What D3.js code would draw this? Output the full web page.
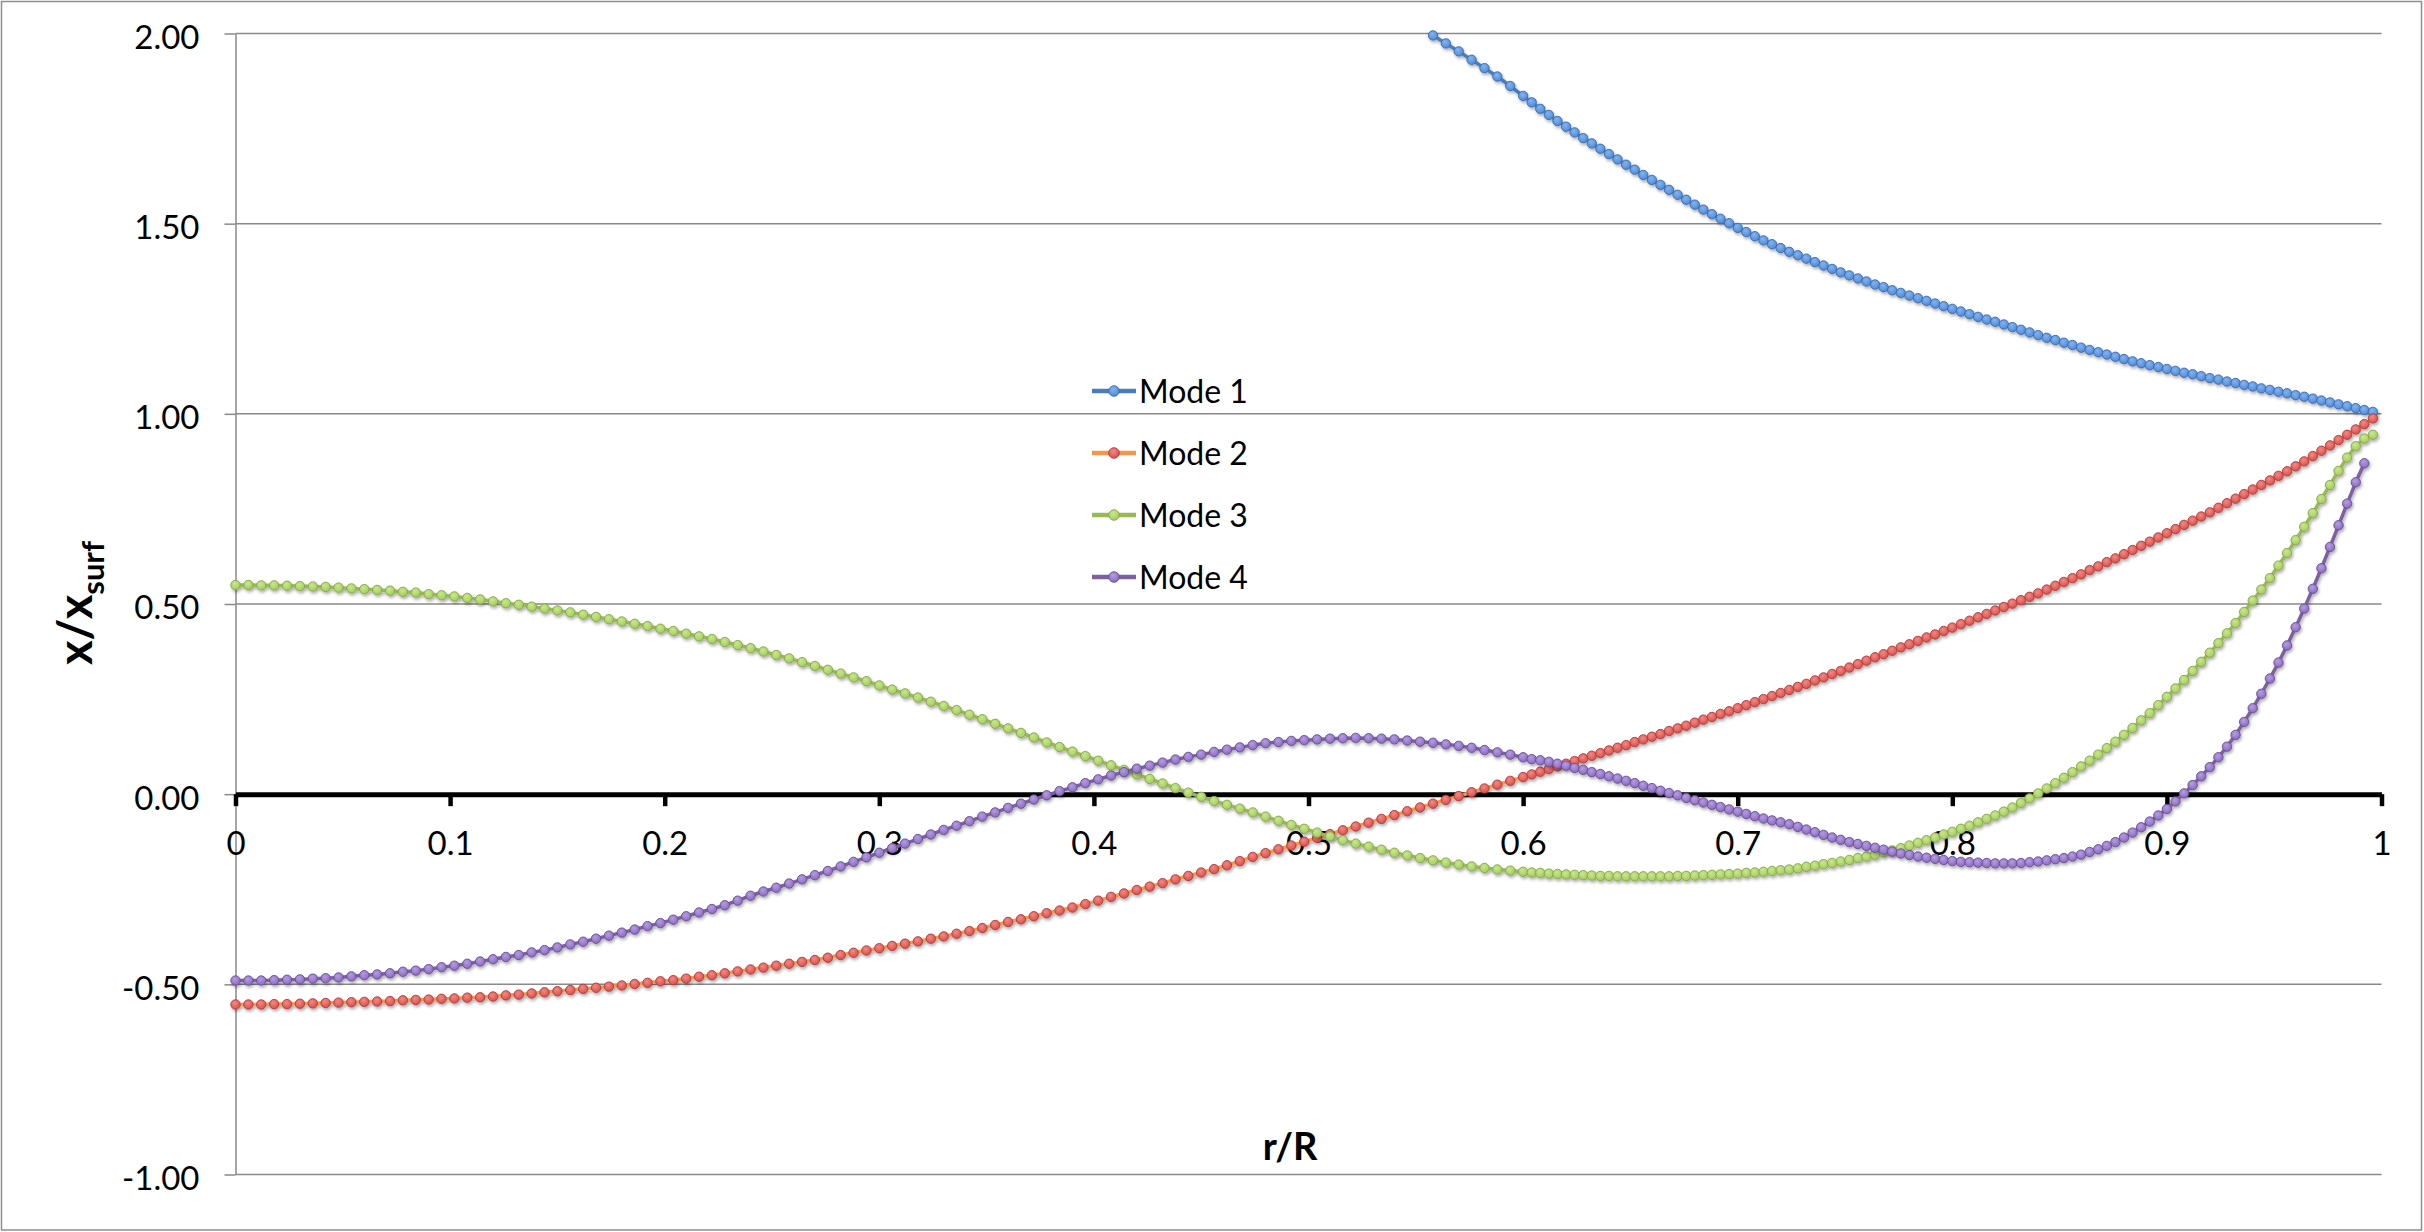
<!DOCTYPE html>
<html lang="en">
<head>
<meta charset="UTF-8">
<title>Radial modes</title>
<script src="https://d3js.org/d3.v7.min.js"></script>
<style>
  body { margin: 0; background: white; }
  svg { display: block; font-family: Lato, Carlito, Calibri, sans-serif; }
  .grid line { stroke: #8a8a8a; stroke-width: 1.5; }
</style>
</head>
<body>
<script>
// r/R sample points: step 0.006 up to 0.6, then 0.004 out to the surface
const rValues = [
  0,0.006,0.012,0.018,0.024,0.03,0.036,0.042,0.048,0.054,
  0.06,0.066,0.072,0.078,0.084,0.09,0.096,0.102,0.108,0.114,
  0.12,0.126,0.132,0.138,0.144,0.15,0.156,0.162,0.168,0.174,
  0.18,0.186,0.192,0.198,0.204,0.21,0.216,0.222,0.228,0.234,
  0.24,0.246,0.252,0.258,0.264,0.27,0.276,0.282,0.288,0.294,
  0.3,0.306,0.312,0.318,0.324,0.33,0.336,0.342,0.348,0.354,
  0.36,0.366,0.372,0.378,0.384,0.39,0.396,0.402,0.408,0.414,
  0.42,0.426,0.432,0.438,0.444,0.45,0.456,0.462,0.468,0.474,
  0.48,0.486,0.492,0.498,0.504,0.51,0.516,0.522,0.528,0.534,
  0.54,0.546,0.552,0.558,0.564,0.57,0.576,0.582,0.588,0.594,
  0.6,0.604,0.608,0.612,0.616,0.62,0.624,0.628,0.632,0.636,
  0.64,0.644,0.648,0.652,0.656,0.66,0.664,0.668,0.672,0.676,
  0.68,0.684,0.688,0.692,0.696,0.7,0.704,0.708,0.712,0.716,
  0.72,0.724,0.728,0.732,0.736,0.74,0.744,0.748,0.752,0.756,
  0.76,0.764,0.768,0.772,0.776,0.78,0.784,0.788,0.792,0.796,
  0.8,0.804,0.808,0.812,0.816,0.82,0.824,0.828,0.832,0.836,
  0.84,0.844,0.848,0.852,0.856,0.86,0.864,0.868,0.872,0.876,
  0.88,0.884,0.888,0.892,0.896,0.9,0.904,0.908,0.912,0.916,
  0.92,0.924,0.928,0.932,0.936,0.94,0.944,0.948,0.952,0.956,
  0.96,0.964,0.968,0.972,0.976,0.98,0.984,0.988,0.992,0.996
];

// Mode 1 is off the top of the chart further in, so it only holds the last 110 points
const mode1 = [
  2.060,2.039,2.017,1.995,1.974,1.953,1.931,1.909,1.887,1.862,
  1.836,1.819,1.802,1.786,1.770,1.755,1.740,1.725,1.711,1.697,
  1.683,1.669,1.655,1.642,1.628,1.615,1.602,1.589,1.576,1.563,
  1.550,1.537,1.525,1.513,1.501,1.489,1.478,1.467,1.456,1.446,
  1.436,1.426,1.417,1.408,1.399,1.390,1.381,1.372,1.364,1.356,
  1.348,1.340,1.333,1.325,1.318,1.311,1.304,1.297,1.290,1.283,
  1.276,1.269,1.262,1.255,1.248,1.242,1.235,1.228,1.221,1.214,
  1.207,1.200,1.194,1.187,1.181,1.174,1.168,1.162,1.156,1.150,
  1.144,1.138,1.133,1.128,1.123,1.118,1.113,1.108,1.104,1.099,
  1.094,1.090,1.085,1.081,1.076,1.072,1.067,1.063,1.058,1.054,
  1.049,1.045,1.040,1.035,1.030,1.025,1.020,1.015,1.010,1.005
];

const mode2 = [
  -0.553,-0.553,-0.553,-0.552,-0.552,-0.551,-0.550,-0.549,-0.548,-0.547,
  -0.546,-0.545,-0.544,-0.542,-0.541,-0.540,-0.538,-0.537,-0.535,-0.534,
  -0.532,-0.529,-0.527,-0.524,-0.521,-0.518,-0.515,-0.512,-0.509,-0.506,
  -0.503,-0.499,-0.496,-0.492,-0.489,-0.485,-0.480,-0.476,-0.471,-0.466,
  -0.461,-0.456,-0.451,-0.446,-0.441,-0.436,-0.430,-0.423,-0.417,-0.411,
  -0.405,-0.399,-0.393,-0.387,-0.380,-0.374,-0.367,-0.360,-0.352,-0.344,
  -0.336,-0.329,-0.321,-0.313,-0.306,-0.298,-0.289,-0.280,-0.270,-0.261,
  -0.252,-0.243,-0.234,-0.224,-0.215,-0.206,-0.197,-0.187,-0.176,-0.165,
  -0.155,-0.145,-0.135,-0.125,-0.115,-0.105,-0.095,-0.085,-0.075,-0.065,
  -0.055,-0.045,-0.035,-0.025,-0.015,-0.005,0.005,0.015,0.025,0.035,
  0.045,0.052,0.059,0.066,0.073,0.080,0.087,0.094,0.101,0.108,
  0.115,0.122,0.129,0.137,0.144,0.151,0.158,0.166,0.173,0.180,
  0.188,0.196,0.203,0.211,0.218,0.226,0.234,0.242,0.250,0.258,
  0.266,0.274,0.282,0.290,0.299,0.307,0.316,0.324,0.333,0.342,
  0.351,0.360,0.368,0.377,0.386,0.394,0.403,0.412,0.420,0.429,
  0.438,0.447,0.456,0.465,0.474,0.483,0.492,0.501,0.510,0.519,
  0.528,0.538,0.548,0.558,0.568,0.578,0.589,0.599,0.610,0.620,
  0.631,0.642,0.653,0.664,0.675,0.686,0.697,0.708,0.719,0.730,
  0.741,0.753,0.765,0.777,0.789,0.801,0.813,0.825,0.837,0.849,
  0.862,0.875,0.889,0.903,0.917,0.931,0.945,0.959,0.973,0.988
];

const mode3 = [
  0.550,0.550,0.549,0.549,0.548,0.547,0.546,0.545,0.543,0.541,
  0.539,0.537,0.535,0.532,0.530,0.526,0.523,0.520,0.516,0.512,
  0.507,0.502,0.498,0.493,0.488,0.483,0.478,0.472,0.466,0.460,
  0.454,0.448,0.442,0.435,0.429,0.422,0.415,0.408,0.400,0.392,
  0.384,0.375,0.366,0.357,0.347,0.337,0.327,0.317,0.307,0.297,
  0.286,0.275,0.265,0.254,0.243,0.232,0.221,0.209,0.197,0.185,
  0.173,0.161,0.149,0.136,0.124,0.112,0.100,0.088,0.076,0.064,
  0.052,0.040,0.028,0.016,0.004,-0.007,-0.018,-0.028,-0.038,-0.048,
  -0.059,-0.070,-0.081,-0.091,-0.101,-0.111,-0.121,-0.130,-0.138,-0.146,
  -0.154,-0.161,-0.168,-0.174,-0.180,-0.185,-0.190,-0.194,-0.198,-0.201,
  -0.204,-0.206,-0.207,-0.209,-0.210,-0.211,-0.212,-0.213,-0.214,-0.215,
  -0.215,-0.216,-0.216,-0.216,-0.216,-0.216,-0.216,-0.216,-0.215,-0.215,
  -0.214,-0.213,-0.212,-0.211,-0.210,-0.209,-0.207,-0.206,-0.204,-0.202,
  -0.200,-0.198,-0.195,-0.191,-0.188,-0.184,-0.181,-0.177,-0.173,-0.168,
  -0.164,-0.159,-0.153,-0.148,-0.142,-0.135,-0.128,-0.121,-0.114,-0.106,
  -0.099,-0.091,-0.083,-0.074,-0.065,-0.056,-0.046,-0.035,-0.023,-0.011,
  0.002,0.015,0.029,0.043,0.058,0.073,0.088,0.104,0.121,0.138,
  0.156,0.174,0.194,0.213,0.234,0.256,0.278,0.300,0.324,0.348,
  0.372,0.397,0.423,0.450,0.479,0.509,0.538,0.568,0.601,0.634,
  0.668,0.703,0.739,0.776,0.813,0.850,0.885,0.915,0.935,0.945
];

const mode4 = [
  -0.490,-0.490,-0.490,-0.489,-0.488,-0.487,-0.485,-0.484,-0.482,-0.479,
  -0.476,-0.474,-0.471,-0.467,-0.464,-0.460,-0.455,-0.451,-0.446,-0.440,
  -0.434,-0.428,-0.423,-0.416,-0.410,-0.403,-0.395,-0.388,-0.380,-0.372,
  -0.364,-0.356,-0.347,-0.339,-0.330,-0.321,-0.311,-0.302,-0.292,-0.280,
  -0.267,-0.256,-0.246,-0.235,-0.224,-0.213,-0.202,-0.190,-0.178,-0.166,
  -0.154,-0.142,-0.130,-0.118,-0.106,-0.094,-0.083,-0.071,-0.059,-0.048,
  -0.036,-0.025,-0.014,-0.003,0.008,0.018,0.029,0.039,0.049,0.058,
  0.067,0.075,0.083,0.091,0.098,0.104,0.111,0.117,0.123,0.129,
  0.134,0.137,0.140,0.142,0.144,0.146,0.147,0.148,0.147,0.146,
  0.144,0.141,0.138,0.135,0.131,0.127,0.122,0.116,0.110,0.104,
  0.097,0.092,0.089,0.085,0.080,0.075,0.069,0.064,0.058,0.053,
  0.047,0.041,0.035,0.029,0.022,0.016,0.009,0.003,-0.003,-0.010,
  -0.016,-0.022,-0.028,-0.034,-0.040,-0.046,-0.052,-0.058,-0.064,-0.069,
  -0.074,-0.079,-0.086,-0.093,-0.100,-0.107,-0.114,-0.120,-0.126,-0.131,
  -0.136,-0.141,-0.146,-0.151,-0.156,-0.160,-0.164,-0.167,-0.170,-0.173,
  -0.176,-0.178,-0.179,-0.180,-0.181,-0.182,-0.182,-0.182,-0.181,-0.179,
  -0.177,-0.174,-0.171,-0.168,-0.164,-0.159,-0.152,-0.145,-0.136,-0.126,
  -0.114,-0.101,-0.087,-0.072,-0.056,-0.039,-0.019,0.002,0.024,0.047,
  0.071,0.097,0.125,0.156,0.190,0.226,0.264,0.304,0.346,0.391,
  0.439,0.488,0.540,0.594,0.650,0.707,0.764,0.820,0.870,null
];

const seriesNames = ["Mode 1", "Mode 2", "Mode 3", "Mode 4"];
const yTicks = [-1, -0.5, 0, 0.5, 1, 1.5, 2];
const xTicks = [0, 0.1, 0.2, 0.3, 0.4, 0.5, 0.6, 0.7, 0.8, 0.9, 1];
const xTickLabels = ["0", "0.1", "0.2", "0.3", "0.4", "0.5", "0.6", "0.7", "0.8", "0.9", "1"];

// colours: line, marker light, marker base, marker edge
const lineColors = ["#4a7ebb", "#f79646", "#98b954", "#7d60a0"];
const markLight  = ["#84b3ee", "#f08a86", "#c9e78f", "#b49de0"];
const markBase   = ["#4a88d8", "#d94a46", "#a2c95a", "#8767bd"];
const markEdge   = ["#3a6aad", "#b03b38", "#84a646", "#694d95"];

const width = 2424, height = 1232;
const plot = { left: 235.5, right: 2381.5, top: 33.5, bottom: 1174.5 };
const font = "Lato, Carlito, Calibri, sans-serif";

const svg = d3.select("body").append("svg")
    .attr("width", width)
    .attr("height", height)
    .style("background", "white");

const x = d3.scaleLinear().domain([0, 1]).range([plot.left, plot.right]);
const y = d3.scaleLinear().domain([-1, 2]).range([plot.bottom, plot.top]);

const defs = svg.append("defs");
defs.append("clipPath").attr("id", "plot-clip")
  .append("rect")
    .attr("x", plot.left - 12).attr("y", plot.top)
    .attr("width", plot.right - plot.left + 24).attr("height", plot.bottom - plot.top);

const shadow = defs.append("filter").attr("id", "shadow")
    .attr("x", "-5%").attr("y", "-5%").attr("width", "110%").attr("height", "110%");
shadow.append("feDropShadow")
    .attr("dx", 1.2).attr("dy", 2.2).attr("stdDeviation", 1.4)
    .attr("flood-color", "#000").attr("flood-opacity", 0.32);

seriesNames.forEach((name, i) => {
  const g = defs.append("radialGradient").attr("id", "mk" + i)
      .attr("cx", "42%").attr("cy", "35%").attr("r", "70%");
  g.append("stop").attr("offset", "0%").attr("stop-color", markLight[i]);
  g.append("stop").attr("offset", "100%").attr("stop-color", markBase[i]);
});

// outer chart border
svg.append("rect")
    .attr("x", 1.5).attr("y", 1.5)
    .attr("width", 2420).attr("height", 1228.5)
    .attr("fill", "none").attr("stroke", "#8e8e8e").attr("stroke-width", 1.5);

// horizontal gridlines
svg.append("g").attr("class", "grid")
  .selectAll("line")
  .data(yTicks.filter(d => d !== 0))
  .enter().append("line")
    .attr("x1", plot.left).attr("x2", plot.right)
    .attr("y1", d => y(d)).attr("y2", d => y(d));

// y axis
const gy = svg.append("g")
    .attr("transform", `translate(${plot.left},0)`)
    .call(d3.axisLeft(y).tickValues(yTicks).tickFormat(d => d.toFixed(2))
      .tickSize(11).tickSizeOuter(0).tickPadding(25))
    .attr("font-family", font).attr("font-size", 33);
gy.select(".domain").attr("stroke", "#8a8a8a").attr("stroke-width", 1.5);
gy.selectAll(".tick line").attr("stroke", "#8a8a8a").attr("stroke-width", 1.5);
gy.selectAll(".tick text").attr("fill", "#000").attr("dy", "0.45em");

// x axis sits on the zero line
const gx = svg.append("g")
    .attr("transform", `translate(0,${y(0)})`)
    .call(d3.axisBottom(x).tickValues(xTicks).tickFormat((d, i) => xTickLabels[i])
      .tickSize(12).tickSizeOuter(0))
    .attr("font-family", font).attr("font-size", 33);
gx.select(".domain").attr("stroke", "#000").attr("stroke-width", 5);
gx.selectAll(".tick line").attr("stroke", "#000").attr("stroke-width", 4.5);
gx.selectAll(".tick text").attr("fill", "#000").attr("y", 61).attr("dy", null);

// series
const allModes = [mode1, mode2, mode3, mode4];
const series = allModes.map((vals, i) => {
  const rs = rValues.slice(rValues.length - vals.length);
  return { name: seriesNames[i], idx: i, points: vals.map((v, k) => ({ r: rs[k], v: v })) };
});

const line = d3.line()
    .defined(d => d.v !== null)
    .x(d => x(d.r))
    .y(d => y(d.v));

series.forEach(s => {
  const g = svg.append("g").attr("filter", "url(#shadow)");
  g.append("path")
      .datum(s.points)
      .attr("clip-path", "url(#plot-clip)")
      .attr("fill", "none")
      .attr("stroke", lineColors[s.idx])
      .attr("stroke-width", 3.5)
      .attr("stroke-linejoin", "round")
      .attr("d", line);
  g.selectAll("circle")
      .data(s.points.filter(d => d.v !== null && d.v <= 2 && d.v >= -1))
      .enter().append("circle")
      .attr("cx", d => x(d.r))
      .attr("cy", d => y(d.v))
      .attr("r", 4.7)
      .attr("fill", `url(#mk${s.idx})`)
      .attr("stroke", markEdge[s.idx])
      .attr("stroke-width", 0.9);
});

// legend
const legend = svg.append("g")
    .attr("font-family", font).attr("font-size", 32);
const rows = legend.selectAll("g")
    .data(seriesNames)
    .enter().append("g")
    .attr("transform", (d, i) => `translate(0,${391 + i * 62})`);
rows.append("line")
    .attr("x1", 1092).attr("x2", 1136)
    .attr("stroke", (d, i) => lineColors[i])
    .attr("stroke-width", 4.5);
rows.append("circle")
    .attr("cx", 1114).attr("r", 5.3)
    .attr("fill", (d, i) => `url(#mk${i})`)
    .attr("stroke", (d, i) => markEdge[i])
    .attr("stroke-width", 0.9);
rows.append("text")
    .attr("x", 1139).attr("dy", "0.36em")
    .text(d => d);

// axis titles
svg.append("text")
    .attr("x", 1290).attr("y", 1160)
    .attr("text-anchor", "middle")
    .attr("font-family", font).attr("font-weight", "bold").attr("font-size", 38)
    .text("r/R");

const yTitle = svg.append("text")
    .attr("transform", "translate(92,603) rotate(-90)")
    .attr("text-anchor", "middle")
    .attr("font-family", font).attr("font-weight", "bold").attr("font-size", 47);
yTitle.append("tspan").text("x/x");
yTitle.append("tspan").attr("font-size", 31).attr("dy", 12).text("surf");
</script>
</body>
</html>
